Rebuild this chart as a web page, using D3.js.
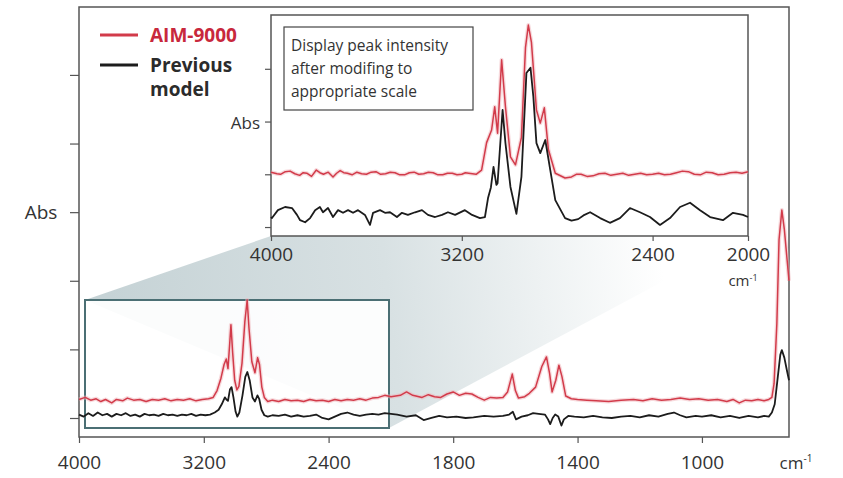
<!DOCTYPE html>
<html>
<head>
<meta charset="utf-8">
<script src="https://cdn.jsdelivr.net/npm/d3@7"></script>
<style>
  body { margin: 0; background: #fff; }
  text { font-family: "Open Sans", "Noto Sans", sans-serif; fill: #333; }
</style>
</head>
<body>
<div id="chart"></div>
<script>
// ---- data: [wavenumber (cm-1), absorbance in axis units] ----
const mainTicks = [4000, 3200, 2400, 1800, 1400, 1000];
const insetTicks = [4000, 3200, 2400, 2000];
const absTicks = [0, 1, 2, 3, 4, 5];
const insetAbsTicks = [0, 1, 2, 3];
const seriesNames = ["AIM-9000", "Previous model"];
const noteLines = ["Display peak intensity", "after modifing to", "appropriate scale"];

const mainRed = [
  [4000,0.27],[3960,0.30],[3925,0.26],[3890,0.28],[3860,0.24],[3830,0.27],[3790,0.22],[3760,0.27],
  [3720,0.25],[3690,0.29],[3650,0.26],[3610,0.27],[3570,0.24],[3530,0.27],[3490,0.26],[3450,0.28],
  [3410,0.25],[3370,0.27],[3330,0.26],[3290,0.28],[3250,0.25],[3210,0.27],[3170,0.28],[3140,0.30],
  [3115,0.40],[3090,0.58],[3070,0.78],[3056,0.86],[3045,0.72],[3035,1.05],[3026,1.36],[3015,0.95],
  [3002,0.55],[2988,0.41],[2975,0.46],[2955,0.80],[2937,1.40],[2922,1.72],[2910,1.30],[2892,0.82],
  [2872,0.66],[2855,0.88],[2843,0.78],[2828,0.45],[2812,0.30],[2790,0.24],[2760,0.26],[2720,0.24],
  [2680,0.27],[2640,0.25],[2600,0.26],[2560,0.24],[2520,0.27],[2480,0.25],[2440,0.26],[2400,0.24],
  [2360,0.27],[2320,0.25],[2280,0.27],[2240,0.26],[2200,0.28],[2160,0.26],[2120,0.29],[2080,0.30],
  [2040,0.33],[2000,0.31],[1970,0.33],[1950,0.38],[1930,0.33],[1900,0.30],[1880,0.34],[1860,0.31],
  [1840,0.30],[1820,0.35],[1800,0.38],[1780,0.33],[1760,0.36],[1740,0.35],[1720,0.30],[1700,0.26],
  [1680,0.30],[1660,0.29],[1640,0.30],[1625,0.38],[1610,0.64],[1600,0.40],[1590,0.29],[1570,0.31],
  [1555,0.36],[1535,0.45],[1515,0.75],[1500,0.89],[1490,0.65],[1482,0.38],[1470,0.55],[1460,0.77],
  [1450,0.60],[1438,0.32],[1420,0.28],[1400,0.27],[1370,0.26],[1340,0.25],[1300,0.24],[1260,0.26],
  [1220,0.27],[1190,0.25],[1160,0.28],[1130,0.26],[1100,0.27],[1070,0.29],[1040,0.27],[1010,0.28],
  [980,0.26],[950,0.27],[920,0.24],[900,0.27],[880,0.22],[860,0.26],[840,0.25],[820,0.27],
  [800,0.25],[785,0.27],[775,0.30],[768,0.50],[759,1.38],[752,2.60],[743,3.03],[735,2.75],
  [727,2.35],[720,2.00]
];

const mainBlack = [
  [4000,0.05],[3970,0.02],[3940,0.07],[3910,0.03],[3880,0.08],[3850,0.04],[3820,0.06],[3790,0.02],
  [3760,0.06],[3730,0.04],[3700,0.07],[3670,0.03],[3640,0.05],[3610,0.02],[3580,0.06],[3550,0.04],
  [3520,0.05],[3490,0.03],[3460,0.06],[3430,0.04],[3400,0.05],[3370,0.03],[3340,0.05],[3310,0.04],
  [3280,0.06],[3250,0.03],[3220,0.05],[3190,0.04],[3160,0.05],[3130,0.08],[3105,0.12],[3085,0.20],
  [3065,0.30],[3055,0.27],[3045,0.25],[3032,0.42],[3022,0.45],[3010,0.30],[2996,0.09],[2985,0.02],
  [2972,0.08],[2952,0.33],[2934,0.60],[2921,0.67],[2906,0.55],[2888,0.30],[2872,0.24],[2856,0.33],
  [2845,0.28],[2830,0.12],[2812,0.04],[2790,0.02],[2760,0.04],[2720,0.03],[2680,0.05],[2640,0.02],
  [2600,0.04],[2560,0.02],[2520,0.03],[2480,0.05],[2440,0.00],[2400,-0.02],[2360,0.02],[2320,0.06],
  [2280,0.08],[2240,0.05],[2200,0.03],[2160,0.05],[2120,0.06],[2080,0.05],[2040,0.07],[2000,0.06],
  [1980,0.05],[1950,0.02],[1920,0.04],[1895,-0.03],[1870,0.00],[1845,0.03],[1820,0.01],[1790,0.02],
  [1760,0.00],[1735,0.01],[1700,0.03],[1670,0.02],[1640,0.03],[1620,0.05],[1608,0.09],[1598,-0.02],
  [1580,0.02],[1560,0.04],[1543,0.07],[1525,0.06],[1505,0.05],[1495,-0.02],[1488,-0.09],[1480,0.00],
  [1472,0.05],[1462,0.02],[1452,-0.11],[1444,-0.02],[1430,0.03],[1410,0.02],[1380,0.01],[1350,0.03],
  [1320,0.01],[1290,0.00],[1260,0.02],[1230,0.03],[1200,0.01],[1170,0.04],[1140,0.02],[1110,0.06],
  [1090,0.08],[1070,0.04],[1050,0.01],[1020,0.03],[1000,0.02],[970,0.04],[940,0.01],[910,0.03],
  [880,0.00],[850,0.03],[820,0.01],[800,0.03],[785,0.02],[775,0.08],[766,0.20],[756,0.60],
  [748,0.92],[743,0.99],[735,0.88],[727,0.70],[720,0.55]
];

const insetRed = [
  [4000,1.04],[3975,1.01],[3960,1.00],[3940,1.05],[3920,1.06],[3900,1.01],[3880,0.98],[3865,1.03],
  [3850,1.02],[3830,0.96],[3810,1.08],[3795,1.03],[3780,1.00],[3760,1.04],[3740,0.95],[3725,1.02],
  [3710,1.07],[3695,1.03],[3680,1.02],[3660,0.99],[3640,1.04],[3620,1.01],[3600,1.00],[3580,1.04],
  [3560,1.05],[3540,1.00],[3520,1.01],[3500,1.04],[3480,1.03],[3460,0.99],[3440,0.99],[3420,1.03],
  [3400,1.04],[3380,1.00],[3360,1.01],[3340,1.04],[3320,1.03],[3300,0.99],[3280,0.99],[3260,1.02],
  [3240,1.02],[3220,0.99],[3200,1.00],[3185,1.03],[3171,1.02],[3140,1.00],[3117,1.08],[3096,1.60],
  [3075,1.84],[3062,2.28],[3050,1.78],[3033,3.17],[3017,2.28],[2996,1.33],[2975,1.18],[2950,1.70],
  [2933,3.40],[2921,3.83],[2908,3.50],[2887,2.22],[2871,1.97],[2854,2.26],[2837,1.47],[2808,1.02],
  [2767,0.93],[2740,0.95],[2720,1.00],[2700,1.00],[2675,0.96],[2650,0.97],[2625,1.01],[2600,1.02],
  [2575,0.98],[2550,1.00],[2525,1.02],[2500,0.98],[2475,1.00],[2450,1.02],[2425,0.99],[2400,1.00],
  [2375,1.02],[2350,0.99],[2325,1.00],[2300,1.03],[2275,1.06],[2250,1.05],[2225,1.00],[2200,0.99],
  [2175,1.04],[2150,1.03],[2125,0.99],[2100,1.00],[2075,1.03],[2050,1.04],[2025,1.02],[2000,1.05]
];

const insetBlack = [
  [4000,0.19],[3996,0.17],[3971,0.32],[3941,0.38],[3912,0.36],[3891,0.23],[3878,0.13],[3857,0.09],
  [3836,0.17],[3815,0.32],[3795,0.38],[3782,0.28],[3761,0.36],[3740,0.19],[3719,0.32],[3698,0.27],
  [3677,0.32],[3656,0.27],[3635,0.32],[3606,0.23],[3585,0.04],[3572,0.27],[3543,0.32],[3522,0.27],
  [3501,0.28],[3472,0.19],[3451,0.27],[3426,0.23],[3396,0.28],[3367,0.32],[3342,0.23],[3312,0.19],
  [3283,0.23],[3258,0.28],[3228,0.23],[3187,0.32],[3157,0.23],[3124,0.17],[3103,0.19],[3090,0.55],
  [3078,0.75],[3067,1.14],[3055,0.80],[3050,0.83],[3029,2.22],[3017,1.59],[2996,0.76],[2971,0.25],
  [2950,0.95],[2929,2.92],[2912,3.02],[2900,2.47],[2887,1.59],[2871,1.40],[2850,1.65],[2829,1.08],
  [2808,0.51],[2767,0.17],[2740,0.12],[2712,0.15],[2690,0.22],[2662,0.28],[2620,0.17],[2579,0.08],
  [2537,0.17],[2495,0.36],[2453,0.28],[2411,0.19],[2369,0.04],[2327,0.17],[2285,0.38],[2243,0.46],
  [2201,0.32],[2159,0.19],[2105,0.13],[2063,0.27],[2021,0.23],[2000,0.19]
];

// ---- layout ----
const W = 843, H = 478;
const main = {left: 79, right: 789, top: 7, bottom: 437};
const inset = {left: 271, right: 748, top: 15, bottom: 236};
const zoomBox = {left: 85, right: 389, top: 300, bottom: 428};
const RED = "#d23b4a", BLACK = "#1c1c1c", AXIS = "#555";

const svg = d3.select("#chart").append("svg")
  .attr("width", W).attr("height", H);

// scales (main x axis compresses 4000-2000 to half scale)
const x = d3.scaleLinear().domain([4000, 2000, 720]).range([main.left, 391, main.right]);
const y = d3.scaleLinear().domain([-0.277, 5.99]).range([main.bottom, main.top]);
const xi = d3.scaleLinear().domain([4000, 2000]).range([inset.left, inset.right]);
const yi = d3.scaleLinear().domain([-0.17, 4.02]).range([inset.bottom, inset.top]);

// shaded "zoom" projection
const defs = svg.append("defs");
const grad = defs.append("linearGradient").attr("id", "proj")
  .attr("gradientUnits", "userSpaceOnUse")
  .attr("x1", 110).attr("y1", 300).attr("x2", 660).attr("y2", 240);
grad.append("stop").attr("offset", 0).attr("stop-color", "#c6d3d6");
grad.append("stop").attr("offset", 0.5).attr("stop-color", "#d8e1e3");
grad.append("stop").attr("offset", 1).attr("stop-color", "#ffffff");

svg.append("path")
  .attr("d", `M${zoomBox.left},${zoomBox.top} L${inset.left},${inset.bottom} L${inset.right},${inset.bottom} L${zoomBox.right},${zoomBox.bottom} Z`)
  .attr("fill", "url(#proj)");

svg.append("rect")
  .attr("x", zoomBox.left).attr("y", zoomBox.top)
  .attr("width", zoomBox.right - zoomBox.left).attr("height", zoomBox.bottom - zoomBox.top)
  .attr("fill", "#fff").attr("fill-opacity", 0.92)
  .attr("stroke", "#4b6f74").attr("stroke-width", 2);

// main frame
svg.append("rect")
  .attr("x", main.left).attr("y", main.top)
  .attr("width", main.right - main.left).attr("height", main.bottom - main.top)
  .attr("fill", "none").attr("stroke", AXIS).attr("stroke-width", 1.5);

// main axes
const xAxis = svg.append("g")
  .attr("transform", `translate(0,${main.bottom})`)
  .call(d3.axisBottom(x).tickValues(mainTicks).tickSize(6).tickSizeOuter(0).tickFormat(d3.format("d")));
xAxis.select(".domain").remove();
xAxis.selectAll("line").attr("stroke", AXIS).attr("stroke-width", 1.2);
xAxis.selectAll("text").attr("dy", null).attr("y", 32)
  .style("font-size", "19px").style("fill", "#333");

svg.append("text").attr("x", 796).attr("y", 469).attr("text-anchor", "middle")
  .style("font-size", "17px")
  .html('cm<tspan dy="-7" font-size="10">-1</tspan>');

const yAxis = svg.append("g")
  .attr("transform", `translate(${main.left},0)`)
  .call(d3.axisLeft(y).tickValues(absTicks).tickSize(9).tickFormat(""));
yAxis.select(".domain").remove();
yAxis.selectAll("line").attr("stroke", AXIS).attr("stroke-width", 1.2);

svg.append("text").attr("x", 41).attr("y", y(3) + 7).attr("text-anchor", "middle")
  .style("font-size", "19px").text("Abs");

// spectra
const line = (xs, ys) => d3.line().x(d => xs(d[0])).y(d => ys(d[1])).curve(d3.curveLinear);

function drawPair(g, xs, ys, red, black) {
  g.append("path").attr("d", line(xs, ys)(red))
    .attr("fill", "none").attr("stroke", "#f0b3ba").attr("stroke-width", 4).attr("stroke-opacity", 0.5)
    .attr("stroke-linejoin", "round");
  g.append("path").attr("d", line(xs, ys)(red))
    .attr("fill", "none").attr("stroke", RED).attr("stroke-width", 1.5).attr("stroke-linejoin", "round");
  g.append("path").attr("d", line(xs, ys)(black))
    .attr("fill", "none").attr("stroke", BLACK).attr("stroke-width", 1.8).attr("stroke-linejoin", "round");
}

drawPair(svg.append("g"), x, y, mainRed, mainBlack);

// legend
const legend = svg.append("g");
seriesNames.forEach((name, i) => {
  const ly = 35 + i * 30;
  legend.append("line")
    .attr("x1", 100).attr("x2", 138).attr("y1", ly).attr("y2", ly)
    .attr("stroke", i === 0 ? RED : BLACK).attr("stroke-width", 3);
});
legend.append("text").attr("x", 150).attr("y", 42)
  .style("font-size", "19px").style("font-weight", "bold").style("fill", "#c8283c")
  .text(seriesNames[0]);
const prev = legend.append("text").attr("x", 150).attr("y", 72)
  .style("font-size", "19px").style("font-weight", "bold").style("fill", "#2b2b2b");
prev.append("tspan").attr("x", 150).text("Previous");
prev.append("tspan").attr("x", 150).attr("dy", 24).text("model");

// ---- inset ----
const ig = svg.append("g");
ig.append("rect")
  .attr("x", inset.left).attr("y", inset.top)
  .attr("width", inset.right - inset.left).attr("height", inset.bottom - inset.top)
  .attr("fill", "#fff").attr("stroke", AXIS).attr("stroke-width", 1.5);

const ixAxis = ig.append("g")
  .attr("transform", `translate(0,${inset.bottom})`)
  .call(d3.axisBottom(xi).tickValues(insetTicks).tickSize(5).tickSizeOuter(0).tickFormat(d3.format("d")));
ixAxis.select(".domain").remove();
ixAxis.selectAll("line").attr("stroke", AXIS).attr("stroke-width", 1.2);
ixAxis.selectAll("text").attr("dy", null).attr("y", 25)
  .style("font-size", "19px").style("fill", "#333");

ig.append("text").attr("x", 743).attr("y", 286).attr("text-anchor", "middle")
  .style("font-size", "15px")
  .html('cm<tspan dy="-5" font-size="9">-1</tspan>');

const iyAxis = ig.append("g")
  .attr("transform", `translate(${inset.left},0)`)
  .call(d3.axisLeft(yi).tickValues(insetAbsTicks).tickSize(6).tickFormat(""));
iyAxis.select(".domain").remove();
iyAxis.selectAll("line").attr("stroke", AXIS).attr("stroke-width", 1.2);

ig.append("text").attr("x", 260).attr("y", yi(2) + 7).attr("text-anchor", "end")
  .style("font-size", "17px").text("Abs");

drawPair(ig.append("g"), xi, yi, insetRed, insetBlack);

// note box
ig.append("rect").attr("x", 284).attr("y", 27).attr("width", 189).attr("height", 83)
  .attr("fill", "#fff").attr("stroke", "#444").attr("stroke-width", 1.2);
ig.selectAll(".note").data(noteLines).join("text")
  .attr("class", "note")
  .attr("x", 291).attr("y", (d, i) => 51 + i * 23)
  .style("font-size", "15.5px").style("fill", "#333")
  .text(d => d);
</script>
</body>
</html>
